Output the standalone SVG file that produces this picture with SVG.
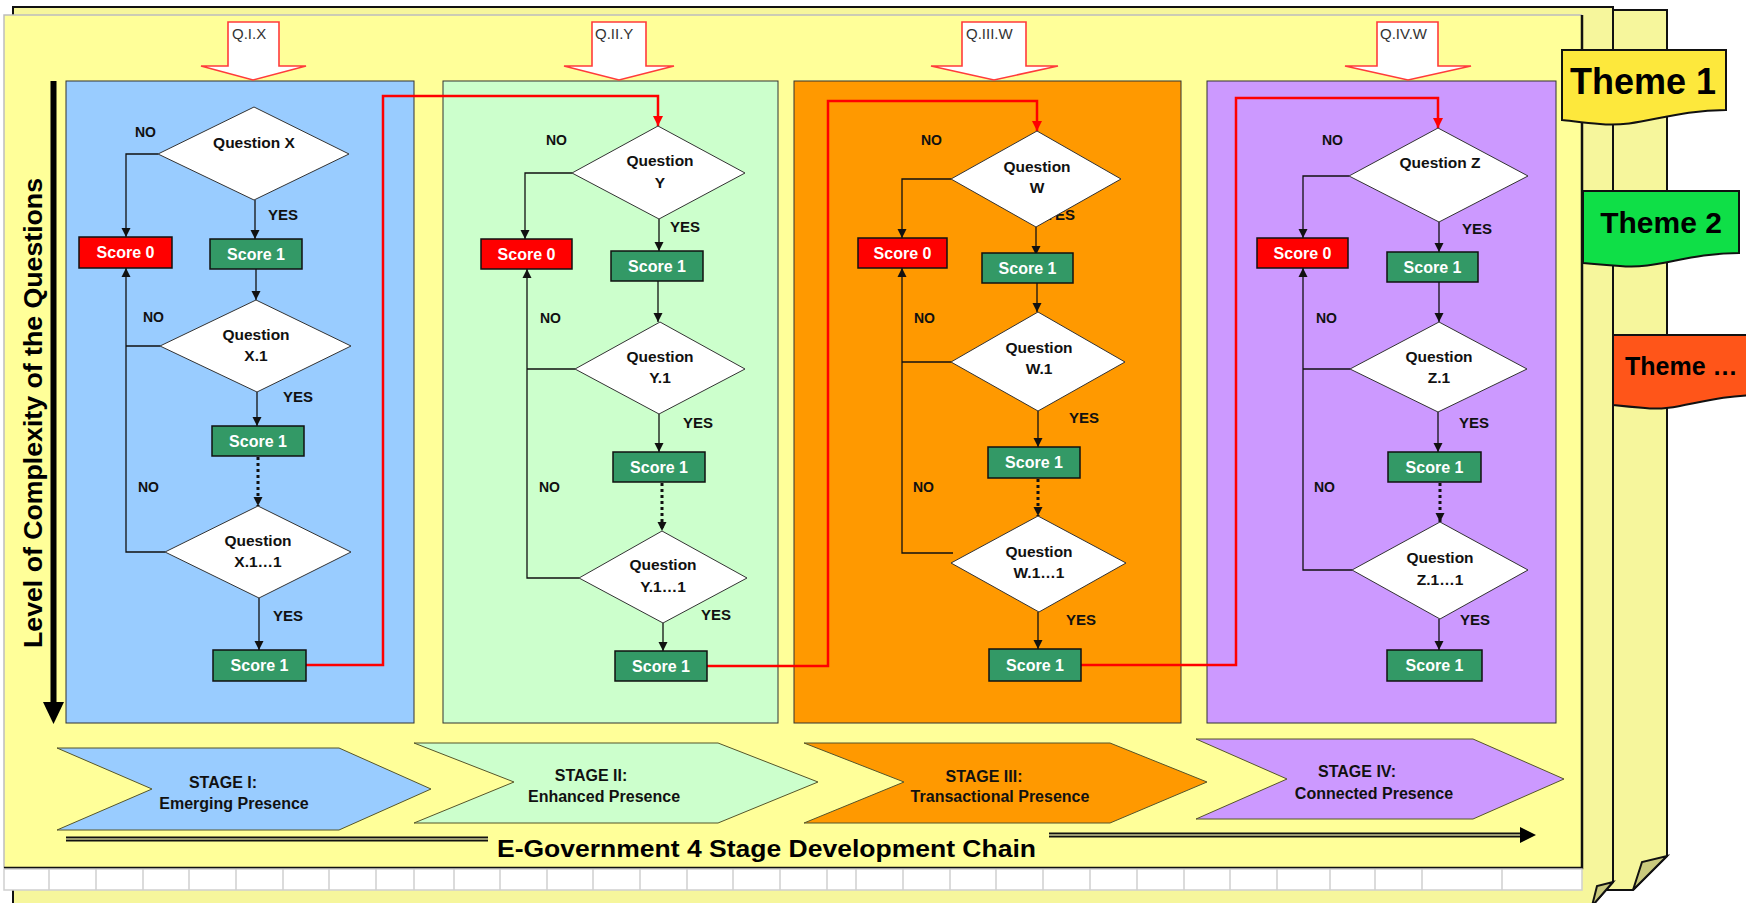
<svg xmlns="http://www.w3.org/2000/svg" width="1746" height="903" viewBox="0 0 1746 903">
  <style>
    text { font-family: "Liberation Sans", Arial, sans-serif; }
    .panel { stroke: #333; stroke-width: 1; }
    .dia { fill: #fff; stroke: #333; stroke-width: 1; }
    .s0 { fill: #ff0000; stroke: #111; stroke-width: 1.5; }
    .s1 { fill: #339966; stroke: #111; stroke-width: 1.5; }
    .sc { fill: #fff; font-weight: bold; font-size: 16px; text-anchor: middle; }
    .q { fill: #111; font-weight: bold; font-size: 15.5px; text-anchor: middle; }
    .no { fill: #111; font-weight: bold; font-size: 14px; }
    .yes { fill: #111; font-weight: bold; font-size: 15px; }
    .c { fill: none; stroke: #111; stroke-width: 1.3; }
    .ca { fill: none; stroke: #111; stroke-width: 1.3; marker-end: url(#ah); }
    .dot { fill: none; stroke: #111; stroke-width: 3; stroke-dasharray: 3 3; marker-end: url(#ah); }
    .red { fill: none; stroke: #ff0000; stroke-width: 2.5; marker-end: url(#ahr); }
    .qarrow { fill: #fff; stroke: #ff3b3b; stroke-width: 1.6; }
    .qlbl { fill: #333; font-size: 15px; }
    .stage { stroke: #55552a; stroke-width: 1; }
    .stx { fill: #111; font-weight: bold; font-size: 16px; text-anchor: middle; }
    .flag { stroke: #111; stroke-width: 2; }
    .flagtx { fill: #000; font-weight: bold; }
    .sheet { fill: #f6f69c; stroke: #111; stroke-width: 2; }
    .fold { fill: #c9c97d; stroke: #111; stroke-width: 2; }
    .grid { stroke: #cfcfcf; stroke-width: 1.5; }
  </style>
  <defs>
    <marker id="ah" viewBox="0 0 10 10" refX="10" refY="5" markerWidth="9" markerHeight="10" markerUnits="userSpaceOnUse" orient="auto">
      <path d="M0,0 L10,5 L0,10 z" fill="#111"/>
    </marker>
    <marker id="ahr" viewBox="0 0 10 10" refX="10" refY="5" markerWidth="10" markerHeight="10" markerUnits="userSpaceOnUse" orient="auto">
      <path d="M0,0 L10,5 L0,10 z" fill="#ff0000"/>
    </marker>
  </defs>

  <rect width="1746" height="903" fill="#fff"/>

  <!-- stacked sheets behind the main page -->
  <g id="sheets">
    <polygon class="sheet" points="1600,10 1667,10 1667,856 1633,890 1600,890"/>
    <polygon class="fold" points="1633,890 1642,862 1667,856"/>
    <polygon class="sheet" points="13,7 1613,7 1613,882 1592,906 13,906"/>
    <polygon class="fold" points="1592,906 1597,886 1613,882"/>
    <rect x="4" y="15" width="1578" height="853" fill="#ffff99"/>
    <path d="M4,868 V15 H1582" fill="none" stroke="#bdbdbd" stroke-width="1.5"/>
    <path d="M1582,15 V868 H4" fill="none" stroke="#111" stroke-width="2.5"/>
    <rect x="4" y="869" width="1578" height="21" fill="#fff" stroke="#cfcfcf" stroke-width="1.5"/>
    <path class="grid" d="M49,869V890 M96,869V890 M143,869V890 M189,869V890 M236,869V890 M283,869V890 M329,869V890 M376,869V890 M414,869V890 M454,869V890 M500,869V890 M547,869V890 M593,869V890 M640,869V890 M687,869V890 M733,869V890 M780,869V890 M827,869V890 M856,869V890 M903,869V890 M950,869V890 M996,869V890 M1043,869V890 M1090,869V890 M1137,869V890 M1184,869V890 M1230,869V890 M1277,869V890 M1330,869V890 M1375,869V890 M1422,869V890 M1502,869V890"/>
  </g>

  <!-- theme tabs -->
  <g id="theme1">
    <path class="flag" fill="#fde83c" d="M1562,50 H1726 V110 C1670,110 1640,128 1600,124 C1585,123 1572,121 1562,120 Z"/>
    <text class="flagtx" x="1643" y="94" font-size="36" text-anchor="middle">Theme 1</text>
  </g>
  <g id="theme2">
    <path class="flag" fill="#0fdf47" d="M1583,191 H1739 V253 C1686,253 1657,270 1620,266 C1605,265 1593,264 1583,263 Z"/>
    <text class="flagtx" x="1661" y="233" font-size="30" text-anchor="middle">Theme 2</text>
  </g>
  <g id="theme3">
    <path class="flag" fill="#ff5519" d="M1613,335 H1760 V395 C1706,395 1677,412 1645,408 C1632,407 1622,406 1613,405 Z"/>
    <text class="flagtx" x="1625" y="375" font-size="25">Theme …</text>
  </g>

  <!-- vertical axis -->
  <g id="axis">
    <line x1="53.5" y1="81" x2="53.5" y2="705" stroke="#000" stroke-width="6"/>
    <polygon points="43,702 64,702 53.5,724" fill="#000"/>
    <text transform="translate(42,413) rotate(-90)" font-size="26" font-weight="bold" fill="#000" text-anchor="middle" textLength="470" lengthAdjust="spacingAndGlyphs">Level of Complexity of the Questions</text>
  </g>

  <!-- panels -->
  <rect id="panel1" class="panel" x="66" y="81" width="348" height="642" fill="#99ccff"/>
  <rect id="panel2" class="panel" x="443" y="81" width="335" height="642" fill="#ccffcc"/>
  <rect id="panel3" class="panel" x="794" y="81" width="387" height="642" fill="#ff9900"/>
  <rect id="panel4" class="panel" x="1207" y="81" width="349" height="642" fill="#cc99ff"/>

  <!-- question arrows -->
  <g id="qI">
    <polygon class="qarrow" points="228,22 279,22 279,66 306,66 253,80 201,66 228,66"/>
    <text class="qlbl" x="232" y="39">Q.I.X</text>
  </g>
  <g id="qII">
    <polygon class="qarrow" points="592,22 646,22 646,66 674,66 619,80 564,66 592,66"/>
    <text class="qlbl" x="595" y="39">Q.II.Y</text>
  </g>
  <g id="qIII">
    <polygon class="qarrow" points="962,22 1026,22 1026,66 1058,66 994,80 931,66 962,66"/>
    <text class="qlbl" x="966" y="39">Q.III.W</text>
  </g>
  <g id="qIV">
    <polygon class="qarrow" points="1377,22 1438,22 1438,66 1471,66 1408,80 1345,66 1377,66"/>
    <text class="qlbl" x="1380" y="39">Q.IV.W</text>
  </g>

  <!-- connectors -->
  <g id="connectors">
    <!-- stage I -->
    <path class="ca" d="M158,154 H126 V237"/>
    <path class="ca" d="M255,200 V239"/>
    <path class="ca" d="M256,269 V300"/>
    <path class="c" d="M160,346 H126"/>
    <path class="ca" d="M165,552 H126 V268"/>
    <path class="ca" d="M257,392 V426"/>
    <path class="dot" d="M258,457 V506"/>
    <path class="ca" d="M259,598 V650"/>
    <path class="red" d="M306,665 H383 V96 H658 V126"/>
    <!-- stage II -->
    <path class="ca" d="M572,173 H525 V239"/>
    <path class="ca" d="M659,219 V251"/>
    <path class="ca" d="M658,281 V322"/>
    <path class="c" d="M575,369 H527"/>
    <path class="ca" d="M579,578 H527 V269"/>
    <path class="ca" d="M659,414 V452"/>
    <path class="dot" d="M662,483 V531"/>
    <path class="ca" d="M663,623 V651"/>
    <path class="red" d="M707,666 H828 V101 H1037 V131"/>
    <!-- stage III -->
    <path class="ca" d="M951,179 H902 V238"/>
    <path class="ca" d="M1036,227 V255"/>
    <path class="ca" d="M1037,283 V312"/>
    <path class="c" d="M951,362 H902"/>
    <path class="ca" d="M953,553 H902 V268"/>
    <path class="ca" d="M1038,411 V447"/>
    <path class="dot" d="M1038,479 V516"/>
    <path class="ca" d="M1038,612 V649"/>
    <path class="red" d="M1081,665 H1236 V98 H1438 V128"/>
    <!-- stage IV -->
    <path class="ca" d="M1349,176 H1303 V238"/>
    <path class="ca" d="M1439,222 V252"/>
    <path class="ca" d="M1439,282 V322"/>
    <path class="c" d="M1350,369 H1303"/>
    <path class="ca" d="M1352,570 H1303 V268"/>
    <path class="ca" d="M1438,412 V452"/>
    <path class="dot" d="M1440,483 V522"/>
    <path class="ca" d="M1439,619 V650"/>
  </g>

  <!-- branch labels -->
  <g id="labels">
    <text class="no" x="135" y="137">NO</text>
    <text class="no" x="143" y="322">NO</text>
    <text class="no" x="138" y="492">NO</text>
    <text class="yes" x="268" y="220">YES</text>
    <text class="yes" x="283" y="402">YES</text>
    <text class="yes" x="273" y="621">YES</text>

    <text class="no" x="546" y="145">NO</text>
    <text class="no" x="540" y="323">NO</text>
    <text class="no" x="539" y="492">NO</text>
    <text class="yes" x="670" y="232">YES</text>
    <text class="yes" x="683" y="428">YES</text>
    <text class="yes" x="701" y="620">YES</text>

    <text class="no" x="921" y="145">NO</text>
    <text class="no" x="914" y="323">NO</text>
    <text class="no" x="913" y="492">NO</text>
    <text class="yes" x="1045" y="220">YES</text>
    <text class="yes" x="1069" y="423">YES</text>
    <text class="yes" x="1066" y="625">YES</text>

    <text class="no" x="1322" y="145">NO</text>
    <text class="no" x="1316" y="323">NO</text>
    <text class="no" x="1314" y="492">NO</text>
    <text class="yes" x="1462" y="234">YES</text>
    <text class="yes" x="1459" y="428">YES</text>
    <text class="yes" x="1460" y="625">YES</text>
  </g>

  <!-- stage I flow -->
  <g id="qX"><polygon class="dia" points="254,107 349,154 254,200 158,154"/><text class="q" x="254" y="148">Question X</text></g>
  <g id="s0X"><rect class="s0" x="79" y="237" width="93" height="31"/><text class="sc" x="125.5" y="258">Score 0</text></g>
  <g id="s1X"><rect class="s1" x="210" y="239" width="92" height="30"/><text class="sc" x="256" y="260">Score 1</text></g>
  <g id="qX1"><polygon class="dia" points="256,300 351,346 257,392 160,346"/><text class="q" x="256" y="340">Question</text><text class="q" x="256" y="361">X.1</text></g>
  <g id="s1X1"><rect class="s1" x="212" y="426" width="92" height="30"/><text class="sc" x="258" y="447">Score 1</text></g>
  <g id="qX11"><polygon class="dia" points="258,506 351,552 259,598 165,552"/><text class="q" x="258" y="546">Question</text><text class="q" x="258" y="567">X.1…1</text></g>
  <g id="s1X11"><rect class="s1" x="213" y="650" width="93" height="31"/><text class="sc" x="259.5" y="671">Score 1</text></g>

  <!-- stage II flow -->
  <g id="qY"><polygon class="dia" points="658,126 745,173 659,219 572,173"/><text class="q" x="660" y="166">Question</text><text class="q" x="660" y="188">Y</text></g>
  <g id="s0Y"><rect class="s0" x="481" y="239" width="91" height="30"/><text class="sc" x="526.5" y="260">Score 0</text></g>
  <g id="s1Y"><rect class="s1" x="611" y="251" width="92" height="30"/><text class="sc" x="657" y="272">Score 1</text></g>
  <g id="qY1"><polygon class="dia" points="660,322 745,369 659,414 575,369"/><text class="q" x="660" y="362">Question</text><text class="q" x="660" y="383">Y.1</text></g>
  <g id="s1Y1"><rect class="s1" x="613" y="452" width="92" height="30"/><text class="sc" x="659" y="473">Score 1</text></g>
  <g id="qY11"><polygon class="dia" points="662,531 747,578 663,623 579,578"/><text class="q" x="663" y="570">Question</text><text class="q" x="663" y="592">Y.1…1</text></g>
  <g id="s1Y11"><rect class="s1" x="615" y="651" width="92" height="30"/><text class="sc" x="661" y="672">Score 1</text></g>

  <!-- stage III flow -->
  <g id="qW"><polygon class="dia" points="1037,131 1121,179 1036,227 951,179"/><text class="q" x="1037" y="172">Question</text><text class="q" x="1037" y="193">W</text></g>
  <g id="s0W"><rect class="s0" x="858" y="238" width="89" height="30"/><text class="sc" x="902.5" y="259">Score 0</text></g>
  <g id="s1W"><rect class="s1" x="982" y="253" width="91" height="30"/><text class="sc" x="1027.5" y="274">Score 1</text></g>
  <g id="qW1"><polygon class="dia" points="1038,312 1125,362 1038,411 951,362"/><text class="q" x="1039" y="353">Question</text><text class="q" x="1039" y="374">W.1</text></g>
  <g id="s1W1"><rect class="s1" x="988" y="447" width="92" height="31"/><text class="sc" x="1034" y="468">Score 1</text></g>
  <g id="qW11"><polygon class="dia" points="1038,516 1126,563 1039,612 951,563"/><text class="q" x="1039" y="557">Question</text><text class="q" x="1039" y="578">W.1…1</text></g>
  <g id="s1W11"><rect class="s1" x="989" y="649" width="92" height="32"/><text class="sc" x="1035" y="671">Score 1</text></g>

  <!-- stage IV flow -->
  <g id="qZ"><polygon class="dia" points="1438,128 1528,176 1439,222 1349,176"/><text class="q" x="1440" y="168">Question Z</text></g>
  <g id="s0Z"><rect class="s0" x="1257" y="238" width="91" height="30"/><text class="sc" x="1302.5" y="259">Score 0</text></g>
  <g id="s1Z"><rect class="s1" x="1387" y="252" width="91" height="30"/><text class="sc" x="1432.5" y="273">Score 1</text></g>
  <g id="qZ1"><polygon class="dia" points="1439,322 1527,369 1438,412 1350,369"/><text class="q" x="1439" y="362">Question</text><text class="q" x="1439" y="383">Z.1</text></g>
  <g id="s1Z1"><rect class="s1" x="1388" y="452" width="93" height="30"/><text class="sc" x="1434.5" y="473">Score 1</text></g>
  <g id="qZ11"><polygon class="dia" points="1440,522 1528,570 1440,619 1352,570"/><text class="q" x="1440" y="563">Question</text><text class="q" x="1440" y="585">Z.1…1</text></g>
  <g id="s1Z11"><rect class="s1" x="1387" y="650" width="95" height="31"/><text class="sc" x="1434.5" y="671">Score 1</text></g>

  <!-- stage chevrons -->
  <g id="stage1">
    <polygon class="stage" fill="#99ccff" points="57,748 339,748 431,789 339,830 57,830 152,789"/>
    <text class="stx" x="223" y="788">STAGE I:</text>
    <text class="stx" x="234" y="809">Emerging Presence</text>
  </g>
  <g id="stage2">
    <polygon class="stage" fill="#ccffcc" points="414,743 718,743 818,782 718,823 414,823 514,782"/>
    <text class="stx" x="591" y="781">STAGE II:</text>
    <text class="stx" x="604" y="802">Enhanced Presence</text>
  </g>
  <g id="stage3">
    <polygon class="stage" fill="#ff9900" points="804,743 1110,743 1207,782 1110,823 804,823 904,782"/>
    <text class="stx" x="984" y="782">STAGE III:</text>
    <text class="stx" x="1000" y="802">Transactional Presence</text>
  </g>
  <g id="stage4">
    <polygon class="stage" fill="#cc99ff" points="1196,739 1473,739 1564,779 1473,819 1196,819 1287,779"/>
    <text class="stx" x="1357" y="777">STAGE IV:</text>
    <text class="stx" x="1374" y="799">Connected Presence</text>
  </g>

  <!-- development chain -->
  <g id="chain">
    <line x1="66" y1="839" x2="488" y2="839" stroke="#111" stroke-width="5"/>
    <line x1="66" y1="839" x2="488" y2="839" stroke="#c8c890" stroke-width="1.5"/>
    <line x1="1049" y1="835" x2="1524" y2="835" stroke="#111" stroke-width="5"/>
    <line x1="1049" y1="835" x2="1521" y2="835" stroke="#c8c890" stroke-width="1.5"/>
    <polygon points="1520,827 1536,835 1520,843" fill="#000"/>
    <text x="497" y="857" font-size="23" font-weight="bold" fill="#000" textLength="539" lengthAdjust="spacingAndGlyphs">E-Government 4 Stage Development Chain</text>
  </g>
</svg>
